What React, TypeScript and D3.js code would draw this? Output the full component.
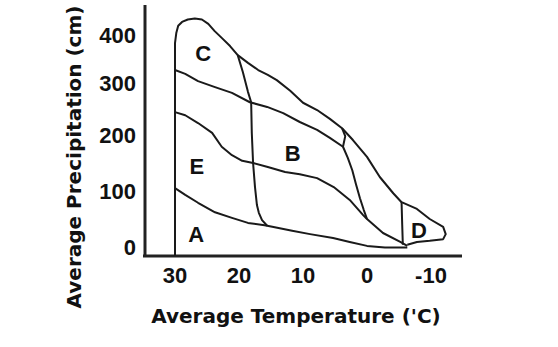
import React, { useEffect, useRef } from "react";
import * as d3 from "d3";

const tempTicks = [30, 20, 10, 0, -10];
const precipTicks = [0, 100, 200, 300, 400];

// points are [temperature (°C), precipitation (cm)]
const outline: [number, number][] = [
  [30, -16], [30, 383], [29.8, 404], [29.5, 419], [28.9, 427], [28, 432], [26.9, 434],
  [25.8, 432], [24.8, 423], [23.8, 408], [22.7, 394], [21.4, 377], [20.2, 358],
  [18.6, 342], [17, 327], [15.5, 317], [14.1, 306], [12, 285], [10, 262], [7.8, 248],
  [5.8, 231], [3.9, 213], [2.2, 191], [0, 161], [-2, 125], [-4.1, 96], [-5.4, 80],
  [-7.8, 68], [-9.8, 50], [-11.9, 36], [-12.3, 23], [-11.9, 14], [-9.8, 11],
  [-7.8, 9], [-6.3, 4],
];

const lineC: [number, number][] = [
  [30, 327], [28.4, 319], [26.4, 304], [23.75, 292], [21.1, 281], [18.3, 263],
  [15.6, 254], [13.1, 242], [10.5, 225], [7.8, 210], [5.8, 195], [3.75, 179],
];

const lineE: [number, number][] = [
  [30, 244], [28.4, 238], [26.4, 223], [24.2, 204], [22.7, 179], [21.1, 164],
  [19.5, 154], [17.8, 150], [15.5, 143], [12.8, 134], [10.5, 130], [7.8, 123],
  [5.2, 107], [2.7, 84], [0.6, 57], [0, 50], [-2.5, 25], [-5.2, 9], [-6.3, 2],
];

const lineA: [number, number][] = [
  [30, 105], [28.4, 93], [26.4, 79], [23.75, 62], [21.1, 52], [18.6, 43], [16, 39],
  [14.8, 36], [11.7, 29], [8.9, 23], [5.3, 16], [2.7, 9], [0, 2], [-2.8, -1], [-6.3, -1],
];

const dividerCB: [number, number][] = [
  [20.2, 358], [19.4, 323], [18.6, 283], [18.1, 263], [18, 204], [17.8, 150],
  [17.5, 107], [17.2, 75], [16.9, 61], [16.4, 48], [15.6, 38],
];

const dividerB: [number, number][] = [
  [3.9, 213], [3.4, 198], [3.75, 179], [3, 159], [2.3, 137], [1.7, 111],
  [1.1, 87], [0.5, 66], [0, 50],
];

const dividerD: [number, number][] = [[-5.4, 80], [-5.5, 40], [-5.6, 4]];

const regionLabels = [
  { name: "C", t: 25.6, p: 362 },
  { name: "B", t: 11.6, p: 168 },
  { name: "E", t: 26.6, p: 145 },
  { name: "A", t: 26.7, p: 23 },
  { name: "D", t: -8.1, p: 30 },
];

export default function App() {
  const ref = useRef<SVGSVGElement>(null);

  useEffect(() => {
    const svg = d3.select(ref.current);
    svg.selectAll("*").remove();

    const x = d3.scaleLinear().domain([30, -10]).range([175, 431]);
    // the printed ticks are not evenly spaced, so the scale is piecewise
    const y = d3
      .scaleLinear()
      .domain([-16, 0, 100, 200, 300, 400, 462])
      .range([256, 247, 191, 135, 83, 35, 5]);

    const tickFont = "'Liberation Sans', Arial, sans-serif";
    const titleFont = "'DejaVu Sans', Verdana, sans-serif";

    // axes
    svg.append("line")
      .attr("x1", 145).attr("x2", 145)
      .attr("y1", y(462)).attr("y2", y(-16) + 1)
      .attr("stroke", "#222").attr("stroke-width", 3);
    svg.append("line")
      .attr("x1", 143).attr("x2", 462)
      .attr("y1", y(-16)).attr("y2", y(-16))
      .attr("stroke", "#222").attr("stroke-width", 3);

    svg.append("g")
      .selectAll("text")
      .data(precipTicks)
      .enter().append("text")
      .attr("x", 136)
      .attr("y", d => y(d) + 8)
      .attr("text-anchor", "end")
      .attr("font-family", tickFont)
      .attr("font-weight", "bold")
      .attr("font-size", 22)
      .attr("fill", "#111")
      .text(d => d);

    svg.append("g")
      .selectAll("text")
      .data(tempTicks)
      .enter().append("text")
      .attr("x", d => x(d))
      .attr("y", 283)
      .attr("text-anchor", "middle")
      .attr("font-family", tickFont)
      .attr("font-weight", "bold")
      .attr("font-size", 22)
      .attr("fill", "#111")
      .text(d => d);

    svg.append("text")
      .attr("x", 296).attr("y", 323)
      .attr("text-anchor", "middle")
      .attr("font-family", titleFont)
      .attr("font-weight", "bold")
      .attr("font-size", 20)
      .attr("fill", "#111")
      .text("Average Temperature ('C)");

    svg.append("text")
      .attr("transform", "translate(81,157) rotate(-90)")
      .attr("text-anchor", "middle")
      .attr("font-family", titleFont)
      .attr("font-weight", "bold")
      .attr("font-size", 20)
      .attr("fill", "#111")
      .text("Average Precipitation (cm)");

    // biome boundaries
    const line = d3.line<[number, number]>().x(d => x(d[0])).y(d => y(d[1]));
    const paths = [outline, lineC, lineE, lineA, dividerCB, dividerB, dividerD];
    svg.append("g")
      .selectAll("path")
      .data(paths)
      .enter().append("path")
      .attr("d", d => line(d))
      .attr("fill", "none")
      .attr("stroke", "#1a1a1a")
      .attr("stroke-width", 2)
      .attr("stroke-linejoin", "round");

    svg.append("g")
      .selectAll("text")
      .data(regionLabels)
      .enter().append("text")
      .attr("x", d => x(d.t))
      .attr("y", d => y(d.p) + 8)
      .attr("text-anchor", "middle")
      .attr("font-family", tickFont)
      .attr("font-weight", "bold")
      .attr("font-size", 22)
      .attr("fill", "#111")
      .text(d => d.name);
  }, []);

  return (
    <svg
      ref={ref}
      width={558}
      height={347}
      style={{ position: "absolute", left: 0, top: 0, background: "#fff" }}
    />
  );
}
